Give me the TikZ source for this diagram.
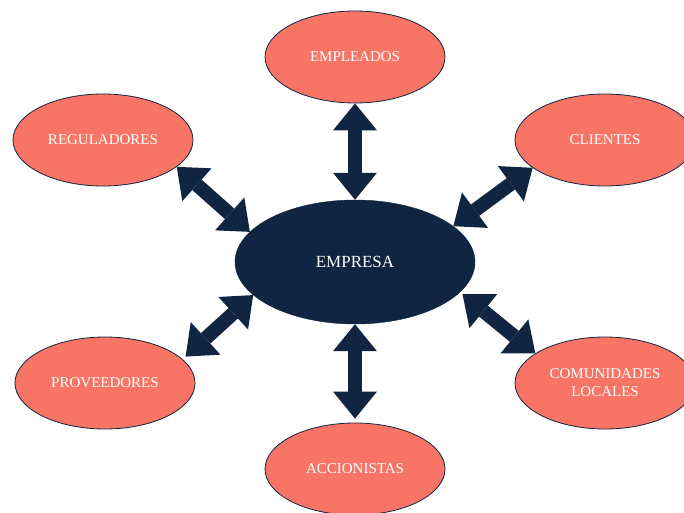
\documentclass[tikz,border=0pt]{standalone}
\usepackage{fontspec}
\setmainfont{Liberation Serif}
\usetikzlibrary{shapes.geometric,arrows.meta}
\definecolor{navy}{HTML}{0F2542}
\definecolor{salmon}{HTML}{F87565}
\tikzset{
  party/.style={ellipse, draw=navy, line width=0.8pt, fill=salmon, text=white,
    minimum width=180pt, minimum height=92pt, inner sep=0pt, align=center,
    font=\fontsize{15}{18}\selectfont},
  core/.style={ellipse, draw=navy, fill=navy, text=white,
    minimum width=240pt, minimum height=124pt, inner sep=0pt,
    font=\fontsize{17}{20}\selectfont},
  bigarrow/.style={navy, line width=14pt,
    {Triangle[length=27pt,width=44pt,line width=0pt]}-{Triangle[length=27pt,width=44pt,line width=0pt]}}
}
\begin{document}
\begin{tikzpicture}[x=1pt,y=-1pt]
\clip (0,0) rectangle (684,513);
\fill[white] (0,0) rectangle (684,513);
\node[core]  (emp)  at (355,262) {EMPRESA};
\node[party] (empl) at (355,57)  {EMPLEADOS};
\node[party] (reg)  at (103,140) {REGULADORES};
\node[party] (cli)  at (605,140) {CLIENTES};
\node[party] (prov) at (105,383) {PROVEEDORES};
\node[party] (com)  at (605,383) {COMUNIDADES\\LOCALES};
\node[party] (acc)  at (355,469) {ACCIONISTAS};
\draw[bigarrow] (empl.south) -- (emp.north);
\draw[bigarrow, shorten >=4pt] (emp.south) -- (acc.north);
\draw[bigarrow] (reg.-20) -- (emp.164);
\draw[bigarrow] (cli.-159) -- (emp.20);
\draw[bigarrow, shorten <=4pt] (prov.17) -- (emp.-162);
\draw[bigarrow, shorten >=3pt] (com.157) -- (emp.-16);
\end{tikzpicture}
\end{document}
